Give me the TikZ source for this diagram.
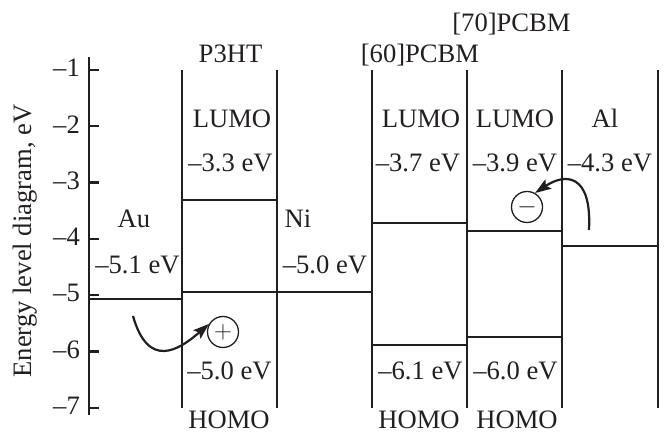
\documentclass[tikz,border=0pt]{standalone}
\usepackage{fontspec}
\setmainfont{Liberation Serif}
\usetikzlibrary{arrows.meta}
\definecolor{ink}{HTML}{231F20}
\begin{document}
\begin{tikzpicture}[x=1pt,y=1pt,
  lbl/.style={anchor=base, inner sep=0pt, font=\fontsize{26.6}{30}\selectfont, text=ink},
  ticklbl/.style={anchor=east, inner sep=0pt, font=\fontsize{26.6}{30}\selectfont, text=ink},
  axisline/.style={draw=ink, line width=2.7pt},
  colline/.style={draw=ink, line width=2.4pt},
  level/.style={draw=ink, line width=2.4pt},
  charge/.style={circle, draw=ink, line width=1.3pt, minimum size=31pt, inner sep=0pt, text=ink, font=\fontsize{24}{24}\selectfont},
  arr/.style={draw=ink, line width=2.2pt, -{Stealth[length=16pt,width=11pt,inset=3pt]}}]
\useasboundingbox (0,0) rectangle (667,435);
% axis
\draw[axisline] (89,20) -- (89,378);
\foreach \k in {1,...,7} {
  \draw[axisline, line width=2.2pt] (89,{365-56.3*(\k-1)}) -- (99,{365-56.3*(\k-1)});
  \node[ticklbl] (t\k) at (80,{367-56.3*(\k-1)}) {–\k};
}
\node[lbl, rotate=90] (ylab) at (31,194) {Energy level diagram, eV};
% column boundaries
\foreach \x in {182,277,372,467,562,658} {
  \draw[colline] (\x,27.2) -- (\x,365);
}
% levels
\draw[level] (89,136) -- (182,136);   % Au
\draw[level] (182,235) -- (277,235);  % P3HT LUMO
\draw[level] (182,143) -- (277,143);  % P3HT HOMO
\draw[level] (277,143) -- (372,143);  % Ni
\draw[level] (372,212) -- (467,212);  % [60]PCBM LUMO
\draw[level] (372,90) -- (467,90);    % [60]PCBM HOMO
\draw[level] (467,204) -- (562,204);  % [70]PCBM LUMO
\draw[level] (467,98) -- (562,98);    % [70]PCBM HOMO
\draw[level] (562,189) -- (658,189);  % Al
% titles
\node[lbl] (p3ht) at (230.5,372.3) {P3HT};
\node[lbl] (pc60) at (420,372.3) {[60]PCBM};
\node[lbl] (pc70) at (511.5,403.3) {[70]PCBM};
% LUMO labels
\node[lbl] (l1) at (232,307) {LUMO};
\node[lbl] (l2) at (421,307) {LUMO};
\node[lbl] (l3) at (515,307) {LUMO};
\node[lbl] (al) at (605,307) {Al};
\node[lbl] (v1) at (230.5,263.3) {–3.3 eV};
\node[lbl] (v2) at (418,263.3) {–3.7 eV};
\node[lbl] (v3) at (515,263.3) {–3.9 eV};
\node[lbl] (v4) at (610,263.3) {–4.3 eV};
% metals
\node[lbl] (au) at (134,207.3) {Au};
\node[lbl] (ni) at (298,207.3) {Ni};
\node[lbl] (vau) at (137.5,161.7) {–5.1 eV};
\node[lbl] (vni) at (325,161.7) {–5.0 eV};
% HOMO values
\node[lbl] (h1) at (229.5,55) {–5.0 eV};
\node[lbl] (h2) at (420.5,55) {–6.1 eV};
\node[lbl] (h3) at (515.5,55) {–6.0 eV};
\node[lbl] (ho1) at (229,6.5) {HOMO};
\node[lbl] (ho2) at (419,6.5) {HOMO};
\node[lbl] (ho3) at (517,6.5) {HOMO};
% charges
\node[charge] (plus) at (223,103) {$+$};
\node[charge] (minus) at (527,228) {$-$};
\coordinate (hs) at (133,119);
\coordinate (es) at (589,205);
\draw[arr] (hs) .. controls (148,66) and (178,84) .. (plus.150);
\draw[arr] (es) .. controls (592,262) and (565,262) .. (minus.60);
\end{tikzpicture}
\end{document}
